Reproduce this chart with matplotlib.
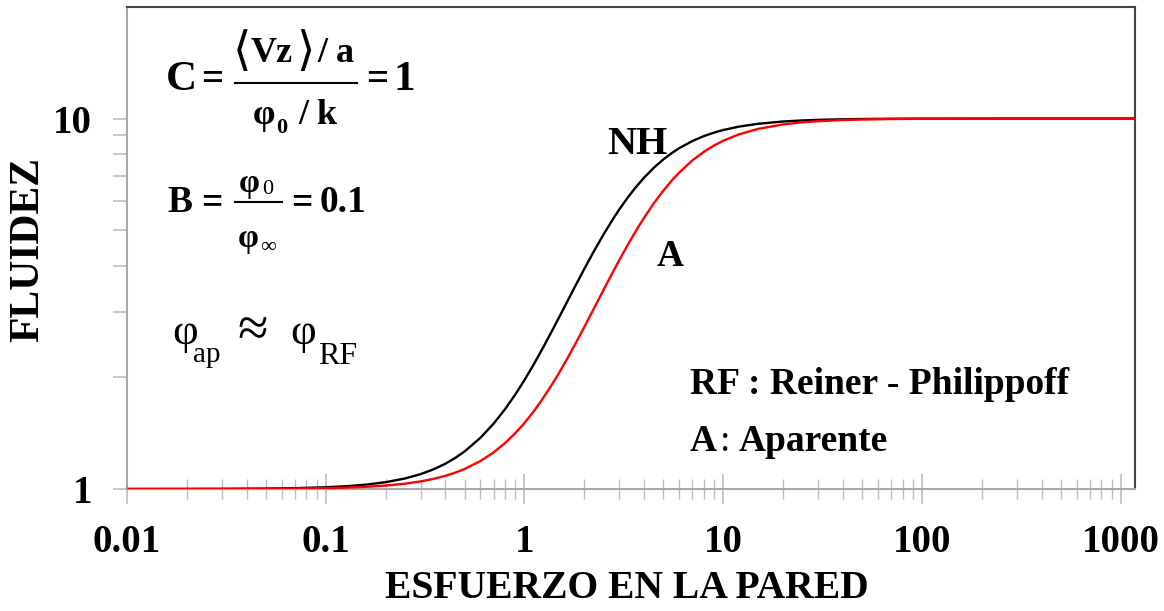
import matplotlib
matplotlib.use("Agg")
import matplotlib.pyplot as plt
from matplotlib.ticker import FixedLocator, NullFormatter
from matplotlib.lines import Line2D

# ---- data ----
stress = [0.01, 0.02, 0.03, 0.05, 0.07, 0.1, 0.13, 0.16, 0.2, 0.25, 0.3, 0.35, 0.4,
          0.45, 0.5, 0.6, 0.7, 0.8, 0.9, 1.0, 1.1, 1.2, 1.35, 1.5, 1.65, 1.8, 2.0,
          2.2, 2.5, 2.8, 3.0, 3.3, 3.6, 4.0, 4.5, 5.0, 5.5, 6.0, 7.0, 8.0, 9.0, 10,
          12, 15, 20, 25, 30, 40, 50, 70, 100, 200, 500, 1200]
fluid_nh = [1.0000, 1.0004, 1.0010, 1.0027, 1.0053, 1.0108, 1.0183, 1.0277, 1.0432,
            1.0673, 1.0966, 1.1310, 1.1703, 1.2145, 1.2633, 1.3743, 1.5021, 1.6447,
            1.8007, 1.9683, 2.1458, 2.3314, 2.6213, 2.9205, 3.2241, 3.5281, 3.9282,
            4.3165, 4.8674, 5.3733, 5.6836, 6.1088, 6.4878, 6.9273, 7.3848, 7.7579,
            8.0633, 8.3147, 8.6971, 8.9674, 9.1640, 9.3107, 9.5098, 9.6800, 9.8172,
            9.8821, 9.9178, 9.9536, 9.9702, 9.9848, 9.9925, 9.9981, 9.9997, 10.000]
fluid_a = [1.0000, 1.0002, 1.0005, 1.0013, 1.0026, 1.0054, 1.0091, 1.0137, 1.0215,
           1.0335, 1.0482, 1.0654, 1.0853, 1.1077, 1.1325, 1.1896, 1.2561, 1.3317,
           1.4157, 1.5077, 1.6071, 1.7133, 1.8842, 2.0671, 2.2597, 2.4604, 2.7368,
           3.0197, 3.4480, 3.8720, 4.1483, 4.5488, 4.9289, 5.3999, 5.9286, 6.3921,
           6.7953, 7.1447, 7.7095, 8.1351, 8.4595, 8.7102, 9.0633, 9.3772, 9.6387,
           9.7654, 9.8358, 9.9069, 9.9402, 9.9694, 9.9850, 9.9962, 9.9994, 10.000]
x_ticks = [0.01, 0.1, 1, 10, 100, 1000]
x_tick_labels = ["0.01", "0.1", "1", "10", "100", "1000"]
y_ticks = [1, 10]
y_tick_labels = ["1", "10"]
y_minor = [2, 3, 4, 5, 6, 7, 8, 9]

W, H = 1164, 611
SERIF = ["Liberation Serif", "DejaVu Serif"]
plt.rcParams["font.family"] = SERIF

fig = plt.figure(figsize=(W / 100, H / 100), dpi=100)
ax = fig.add_axes([127 / W, 1 - 489 / H, (1135 - 127) / W, (489 - 7) / H])

ax.plot(stress, fluid_nh, color="black", lw=1.7, zorder=3, solid_joinstyle="round")
ax.plot(stress, fluid_a, color="#ff0000", lw=1.7, zorder=4, solid_joinstyle="round")

ax.set_xscale("log")
ax.set_yscale("log")
ax.set_xlim(0.01, 1180)
ax.set_ylim(1, 20)

ax.xaxis.set_major_locator(FixedLocator(x_ticks))
ax.set_xticklabels(x_tick_labels)
ax.xaxis.set_minor_locator(FixedLocator(
    [m * 10.0 ** e for e in range(-2, 4) for m in range(2, 10) if m * 10.0 ** e < 1180]))
ax.xaxis.set_minor_formatter(NullFormatter())
ax.yaxis.set_major_locator(FixedLocator(y_ticks))
ax.set_yticklabels(y_tick_labels)
ax.yaxis.set_minor_locator(FixedLocator(y_minor))
ax.yaxis.set_minor_formatter(NullFormatter())

tc = "#bdbdbd"
ax.tick_params(axis="x", which="major", direction="inout", length=22, width=1.2,
               color=tc, pad=14)
ax.tick_params(axis="x", which="minor", direction="inout", length=15, width=1.0,
               color=tc)
ax.tick_params(axis="y", which="both", direction="out", length=10, width=1.2,
               color=tc, pad=15)
for lab in ax.get_xticklabels() + ax.get_yticklabels():
    lab.set_fontsize(28)
    lab.set_fontweight("bold")

for s in ["left", "bottom"]:
    ax.spines[s].set_color("#a8a8a8")
    ax.spines[s].set_linewidth(1.5)
for s in ["top", "right"]:
    ax.spines[s].set_color("#444444")
    ax.spines[s].set_linewidth(1.5)


def P(x, y):
    return (x / W, 1 - y / H)


def T(x, y, s, size, weight="bold", **kw):
    fig.text(*P(x, y), s, fontsize=size, fontweight=weight, ha="center",
             va="center", **kw)


def bar(x0, x1, y, lw=1.5):
    fig.add_artist(Line2D([x0 / W, x1 / W], [1 - y / H, 1 - y / H], color="black",
                          lw=lw, transform=fig.transFigure))


# axis labels
T(627, 588, "ESFUERZO EN LA PARED", 28.5)
fig.text(*P(28, 250), "FLUIDEZ", fontsize=30, fontweight="bold", rotation=90,
         ha="center", va="center")

# C formula
T(181, 80, "C", 31)
T(212, 80, "=", 28)
T(242, 52, "\u27e8", 34, weight="normal", family=["DejaVu Serif"])
T(272, 53, "Vz", 26)
T(305, 52, "\u27e9", 34, weight="normal", family=["DejaVu Serif"])
T(336, 53, "/ a", 26)
bar(235, 357, 83)
T(264, 115, "\u03c6", 26)
T(282, 128, "0", 16)
T(318, 115, "/ k", 26)
T(377, 80, "=", 28)
T(404, 80, "1", 31)

# B formula
T(180, 203, "B", 27)
T(212, 203, "=", 27)
T(249, 183, "\u03c6", 24)
T(268, 190, "0", 16, weight="normal")
bar(235, 282, 202)
T(248, 238, "\u03c6", 24)
T(268, 247, "\u221e", 16, weight="normal")
T(302, 203, "=", 27)
T(343, 203, "0.1", 27)

# phi_ap ~ phi_RF
T(185, 333, "\u03c6", 32, weight="normal")
T(207, 355, "ap", 21, weight="normal")
T(253, 332, "\u2248", 40, weight="normal")
T(303, 333, "\u03c6", 32, weight="normal")
T(338, 357, "RF", 23, weight="normal")

# curve labels
T(637, 144, "NH", 29)
T(670, 257, "A", 27)

# legend texts
fig.text(*P(690, 394), "RF : Reiner - Philippoff", fontsize=27, fontweight="bold",
         ha="left", va="baseline")
fig.text(*P(690, 451), "A", fontsize=27, fontweight="bold", ha="left", va="baseline")
fig.text(*P(725, 451), ":", fontsize=27, fontweight="normal", ha="center",
         va="baseline")
fig.text(*P(739, 451), "Aparente", fontsize=27, fontweight="bold", ha="left",
         va="baseline")

fig.savefig("out.png", dpi=100)
